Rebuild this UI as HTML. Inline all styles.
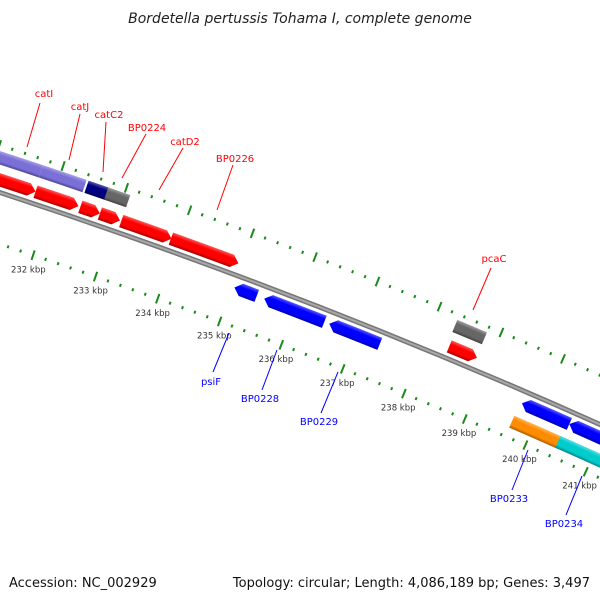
<!DOCTYPE html>
<html><head><meta charset="utf-8"><style>
body{margin:0;background:#fff;}
svg{display:block;font-family:"DejaVu Sans","Liberation Sans",sans-serif;}
</style></head><body>
<svg id="map" width="600" height="600" viewBox="0 0 600 600">
<text x="300" y="23" text-anchor="middle" font-size="14" font-style="italic" fill="#222">Bordetella pertussis Tohama I, complete genome</text>
<g id="ticks"></g>
<g id="backbone"></g>
<g id="feats"></g>
<g id="labels"></g>
<text x="9" y="587" font-size="13" fill="#111">Accession: NC_002929</text>
<text x="590" y="587" font-size="13" fill="#111" text-anchor="end">Topology: circular; Length: 4,086,189 bp; Genes: 3,497</text>
</svg>
<script>
// feature data (kbp)
const featStart = [230.5, 231.73, 232.44, 232.75, 233.09, 233.88, 238.36, 230.5, 231.71, 232.43, 232.74, 238.32, 235.03, 235.51, 236.56, 239.70, 240.48, 239.67, 240.43];
const featEnd   = [231.73, 232.41, 232.75, 233.07, 233.89, 234.96, 238.81, 231.71, 232.40, 232.77, 233.09, 238.80, 235.39, 236.48, 237.38, 240.48, 241.30, 240.46, 241.40];
const featRow   = [1,1,1,1,1,1,1, 2,2,2,2,2, -1,-1,-1,-1,-1, -2,-2];
const featColor = ["#ff0000","#ff0000","#ff0000","#ff0000","#ff0000","#ff0000","#ff0000","#7b6fd8","#7b6fd8","#000080","#666666","#666666","#0000ff","#0000ff","#0000ff","#0000ff","#0000ff","#ff8c00","#00cccc"];
const featArrow = [1,1,1,1,1,1,1, 0,0,0,0,0, -1,-1,-1,-1,-1, 0,0];
const tickMajor = [230,231,232,233,234,235,236,237,238,239,240,241,242];
const tickLabels = ["230 kbp","231 kbp","232 kbp","233 kbp","234 kbp","235 kbp","236 kbp","237 kbp","238 kbp","239 kbp","240 kbp","241 kbp","242 kbp"];
const labelNames = ["catI","catJ","catC2","BP0224","catD2","BP0226","pcaC","psiF","BP0228","BP0229","BP0233","BP0234"];
const labelColor = ["red","red","red","red","red","red","red","blue","blue","blue","blue","blue"];
const labelTextPos = [[44,97],[80,110],[109,118],[147,131],[185,145],[235,162],[494,262],[211,385],[260,402],[319,425],[509,502],[564,527]];
const labelLine = [[40,103,27,147],[80,114,69,160],[106,122,103,172],[146,134,122,178],[183,148,159,190],[233,165,217,210],[491,268,473,310],[213,372,229,333],[262,390,277,350],[321,413,338,372],[512,490,528,450],[566,515,582,476]];

const NS="http://www.w3.org/2000/svg";
const cx=-1920, cy=6052, R0=6166;
function ang(k){return (-71.38+(k-232)*0.618)*Math.PI/180;}
function pt(R,a){return [cx+R*Math.cos(a), cy+R*Math.sin(a)];}
function mk(tag,attrs,parent){const e=document.createElementNS(NS,tag);for(const k in attrs)e.setAttribute(k,attrs[k]);parent.appendChild(e);return e;}
function f(p){return p[0].toFixed(2)+","+p[1].toFixed(2);}

// backbone
const bb=document.getElementById('backbone');
const a0=ang(229), a1=ang(243);
const bbPath="M"+f(pt(R0,a0))+" A"+R0+","+R0+" 0 0 1 "+f(pt(R0,a1));
const bbOuter=mk('path',{d:bbPath,fill:'none',stroke:'#777',"stroke-width":5},bb);


const bbInner=mk('path',{d:bbPath,fill:'none',stroke:'#a8a8a8',"stroke-width":2},bb);



// ticks
const tg=document.getElementById('ticks');
const ringR=[6211,6117];
for(let i=0;i<=60;i++){
  const k=230+i*0.2;
  const major=Math.abs(k-Math.round(k))<0.001;
  const a=ang(k);
  ringR.forEach((R,ri)=>{
    const len=major?5:1.5;
    const p1=pt(R-len,a), p2=pt(R+len,a);
    const t=mk('line',{x1:p1[0],y1:p1[1],x2:p2[0],y2:p2[1],stroke:'#1a8a1a',"stroke-width":2},tg);
    
    
  });
}
tickMajor.forEach((k,i)=>{
  const p=pt(6102,ang(k));
  const t=mk('text',{x:p[0],y:p[1]+3,"text-anchor":"middle","font-size":"8.5",fill:'#333'},tg);
  t.textContent=tickLabels[i];
  
  
});

// features
const fg=document.getElementById('feats');
const defs=mk('defs',{},fg);
function shade(c,amt){const n=parseInt(c.slice(1),16);let r=n>>16,g=(n>>8)&255,b=n&255;
  const m=v=>Math.max(0,Math.min(255,Math.round(amt>0?v+(255-v)*amt:v*(1+amt))));
  return "rgb("+m(r)+","+m(g)+","+m(b)+")";}
featStart.forEach((s,i)=>{
  const e=featEnd[i], row=featRow[i];
  const Rc=R0+Math.sign(row)*(Math.abs(row)==1?12:33);
  const hw=6.5, Ro=Rc+hw, Ri=Rc-hw;
  let as=ang(s), ae=ang(e);
  const head=7/Rc;
  let d;
  if(featArrow[i]===1){
    const ah=Math.max(as,ae-head);
    d="M"+f(pt(Ro,as))+" A"+Ro+","+Ro+" 0 0 1 "+f(pt(Ro,ah))+" L"+f(pt(Rc,ae))+" L"+f(pt(Ri,ah))+" A"+Ri+","+Ri+" 0 0 0 "+f(pt(Ri,as))+" Z";
  } else if(featArrow[i]===-1){
    const ah=Math.min(ae,as+head);
    d="M"+f(pt(Rc,as))+" L"+f(pt(Ro,ah))+" A"+Ro+","+Ro+" 0 0 1 "+f(pt(Ro,ae))+" L"+f(pt(Ri,ae))+" A"+Ri+","+Ri+" 0 0 0 "+f(pt(Ri,ah))+" Z";
  } else {
    d="M"+f(pt(Ro,as))+" A"+Ro+","+Ro+" 0 0 1 "+f(pt(Ro,ae))+" L"+f(pt(Ri,ae))+" A"+Ri+","+Ri+" 0 0 0 "+f(pt(Ri,as))+" Z";
  }
  const am=(as+ae)/2, po=pt(Ro,am), pi=pt(Ri,am);
  const gid='g'+i;
  const lg=mk('linearGradient',{id:gid,gradientUnits:'userSpaceOnUse',x1:po[0],y1:po[1],x2:pi[0],y2:pi[1]},defs);
  const c=featColor[i];
  mk('stop',{offset:'0',"stop-color":shade(c,0.35)},lg);
  mk('stop',{offset:'0.3',"stop-color":c},lg);
  mk('stop',{offset:'0.75',"stop-color":c},lg);
  mk('stop',{offset:'1',"stop-color":shade(c,-0.35)},lg);
  const p=mk('path',{d:d,fill:'url(#'+gid+')'},fg);
  
  
});

// labels
const lgp=document.getElementById('labels');
labelNames.forEach((n,i)=>{
  const L=labelLine[i];
  const ln=mk('line',{x1:L[0],y1:L[1],x2:L[2],y2:L[3],stroke:labelColor[i],"stroke-width":1},lgp);
  
  
  const t=mk('text',{x:labelTextPos[i][0],y:labelTextPos[i][1],"text-anchor":"middle","font-size":"10",fill:labelColor[i]},lgp);
  t.textContent=n;
  
  
});
</script>
</body></html>
